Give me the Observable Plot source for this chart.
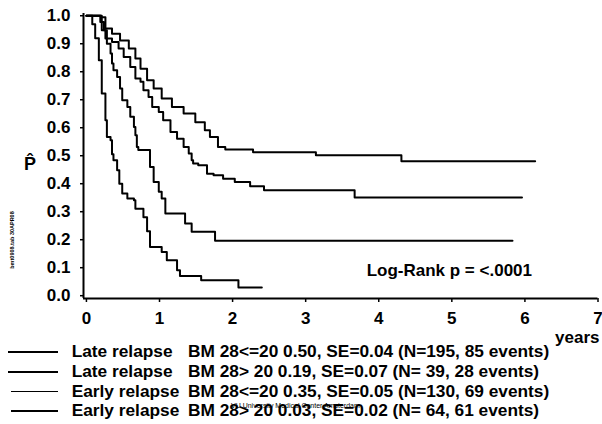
<!DOCTYPE html>
<html>
<head>
<meta charset="utf-8">
<script src="https://cdn.jsdelivr.net/npm/d3@7"></script>
<script src="https://cdn.jsdelivr.net/npm/@observablehq/plot@0.6"></script>
<style>
  html, body { margin: 0; padding: 0; background: #fff; }
  #wrap { position: relative; width: 602px; height: 424px; overflow: hidden; background: #fff;
          font-family: "Liberation Sans", Arial, sans-serif; color: #000; }
  #legend { position: absolute; left: 0; top: 342px; width: 602px; }
  .row { display: flex; align-items: center; height: 19.8px; line-height: 19.8px;
         font-size: 17.3px; font-weight: bold; white-space: pre; }
  .seg { margin-left: 8px; width: 50px; height: 0; border-top: 2px solid #000; margin-right: 13.7px; }
  .grp { display: inline-block; width: 116.3px; }
  #ylab { position: absolute; left: 24px; top: 155px; font-size: 18px; font-weight: bold; line-height: 18px; }
  #stamp { position: absolute; left: 12px; top: 240px; font-size: 5.5px; font-weight: bold;
           transform: translate(-50%, -50%) rotate(-90deg); white-space: nowrap; }
  #water { position: absolute; left: 231px; top: 402px; font-size: 7px; white-space: nowrap; line-height: 8px; }
</style>
</head>
<body>
<div id="wrap"></div>
<script>
// ---- data ----
const seriesNames = ["Late relapse BM 28<=20", "Late relapse BM 28> 20", "Early relapse BM 28<=20", "Early relapse BM 28> 20"];

// Late relapse, BM 28 <= 20 (top curve)
const lateLowT = [0, 0.19, 0.2, 0.26, 0.35, 0.46, 0.58, 0.67, 0.74, 0.83, 0.92, 1.03, 1.17, 1.33, 1.49, 1.62, 1.69, 1.80, 1.90, 2.28, 3.14, 4.31, 6.14];
const lateLowS = [1, 1, 0.995, 0.954, 0.936, 0.912, 0.883, 0.847, 0.811, 0.77, 0.74, 0.704, 0.674, 0.651, 0.62, 0.591, 0.567, 0.531, 0.522, 0.5125, 0.502, 0.48, 0.48];

// Early relapse, BM 28 <= 20 (second curve)
const earlyLowT = [0, 0.19, 0.21, 0.26, 0.35, 0.44, 0.51, 0.60, 0.67, 0.74, 0.78, 0.85, 0.90, 0.99, 1.05, 1.15, 1.24, 1.33, 1.40, 1.44, 1.46, 1.53, 1.65, 1.74, 1.87, 2.03, 2.24, 2.43, 3.67, 5.96];
const earlyLowS = [1, 1, 0.948, 0.919, 0.906, 0.883, 0.853, 0.817, 0.776, 0.764, 0.734, 0.71, 0.674, 0.656, 0.627, 0.585, 0.561, 0.531, 0.508, 0.484, 0.472, 0.466, 0.436, 0.43, 0.418, 0.406, 0.391, 0.377, 0.351, 0.351];

// Late relapse, BM 28 > 20 (third curve)
const lateHighT = [0, 0.19, 0.24, 0.28, 0.33, 0.35, 0.37, 0.42, 0.46, 0.49, 0.56, 0.60, 0.65, 0.67, 0.69, 0.71, 0.87, 0.92, 0.99, 1.03, 1.08, 1.35, 1.44, 1.76, 5.83];
const lateHighS = [1, 0.978, 0.948, 0.9, 0.865, 0.829, 0.805, 0.781, 0.74, 0.698, 0.674, 0.639, 0.603, 0.573, 0.531, 0.52, 0.46, 0.406, 0.371, 0.347, 0.294, 0.258, 0.228, 0.196, 0.196];

// Early relapse, BM 28 > 20 (steepest curve)
const earlyHighT = [0, 0.08, 0.12, 0.17, 0.21, 0.26, 0.28, 0.33, 0.35, 0.37, 0.42, 0.45, 0.49, 0.56, 0.65, 0.67, 0.78, 0.83, 0.87, 1.03, 1.10, 1.24, 1.28, 1.57, 2.08, 2.40];
const earlyHighS = [1, 0.97, 0.92, 0.841, 0.722, 0.627, 0.567, 0.555, 0.505, 0.484, 0.448, 0.40, 0.365, 0.347, 0.341, 0.311, 0.28, 0.23, 0.174, 0.156, 0.127, 0.091, 0.07, 0.055, 0.029, 0.029];

const xTicks = [0, 1, 2, 3, 4, 5, 6, 7];
const yTicks = [0, 0.1, 0.2, 0.3, 0.4, 0.5, 0.6, 0.7, 0.8, 0.9, 1.0];
const xLabel = "years";
const yLabel = "P\u0302";
const logRankText = "Log-Rank p = <.0001";

const legendGroups = ["Late relapse", "Late relapse", "Early relapse", "Early relapse"];
const legendStats = [
  "BM 28<=20 0.50, SE=0.04 (N=195, 85 events)",
  "BM 28> 20 0.19, SE=0.07 (N= 39, 28 events)",
  "BM 28<=20 0.35, SE=0.05 (N=130, 69 events)",
  "BM 28> 20 0.03, SE=0.02 (N= 64, 61 events)"
];
const stampText = "bmt0908.tab 30APR08";
const watermarkText = "VU University Medical Center Amsterdam";

// ---- build table ----
const seriesData = [
  [lateLowT, lateLowS],
  [lateHighT, lateHighS],
  [earlyLowT, earlyLowS],
  [earlyHighT, earlyHighS]
];
const rows = [];
seriesData.forEach(([T, S], i) => T.forEach((t, j) => rows.push({series: seriesNames[i], t, s: S[j]})));

const xMin = -0.04, yMin = -0.01;

const chart = Plot.plot({
  width: 602,
  height: 340,
  marginLeft: 83,
  marginRight: 4.5,
  marginTop: 13,
  marginBottom: 42,
  style: {fontFamily: "'Liberation Sans', Arial, sans-serif", fontSize: "17px", fontWeight: "bold", color: "#000", background: "#fff", overflow: "visible"},
  x: {domain: [xMin, 7]},
  y: {domain: [yMin, 1.008]},
  marks: [
    Plot.line(rows, {x: "t", y: "s", z: "series", curve: "step-after", stroke: "#000", strokeWidth: 2}),
    Plot.ruleY([yMin], {stroke: "#000", strokeWidth: 2}),
    Plot.ruleX([xMin], {stroke: "#000", strokeWidth: 2}),
    Plot.axisX(xTicks, {tickSize: 4, tickPadding: 9, strokeWidth: 1.5, label: xLabel, labelAnchor: "right", labelOffset: 44, labelArrow: "none"}),
    Plot.axisY(yTicks, {tickSize: 3, tickPadding: 10, strokeWidth: 1.5, tickFormat: d3.format(".1f"), label: null}),
    Plot.text([logRankText], {text: d => d, frameAnchor: "bottom-right", textAnchor: "end", dx: -66, dy: -23, fontSize: 17, fontWeight: "bold"})
  ]
});

const wrap = document.getElementById("wrap");
wrap.appendChild(chart);

// y label
const yl = document.createElement("div");
yl.id = "ylab"; yl.textContent = yLabel; wrap.appendChild(yl);

// small vertical stamp
const st = document.createElement("div");
st.id = "stamp"; st.textContent = stampText; wrap.appendChild(st);

// legend
const lg = document.createElement("div");
lg.id = "legend";
legendGroups.forEach((g, i) => {
  const r = document.createElement("div");
  r.className = "row";
  const seg = document.createElement("span");
  seg.className = "seg";
  if (i >= 2) { seg.style.marginLeft = "11px"; seg.style.width = "47px"; }
  if (i === 2) { seg.style.borderTopWidth = "1px"; }
  const gs = document.createElement("span");
  gs.className = "grp"; gs.textContent = g;
  const ss = document.createElement("span");
  ss.textContent = legendStats[i];
  r.appendChild(seg); r.appendChild(gs); r.appendChild(ss);
  lg.appendChild(r);
});
wrap.appendChild(lg);

// watermark
const wm = document.createElement("div");
wm.id = "water"; wm.textContent = watermarkText; wrap.appendChild(wm);
</script>
</body>
</html>
